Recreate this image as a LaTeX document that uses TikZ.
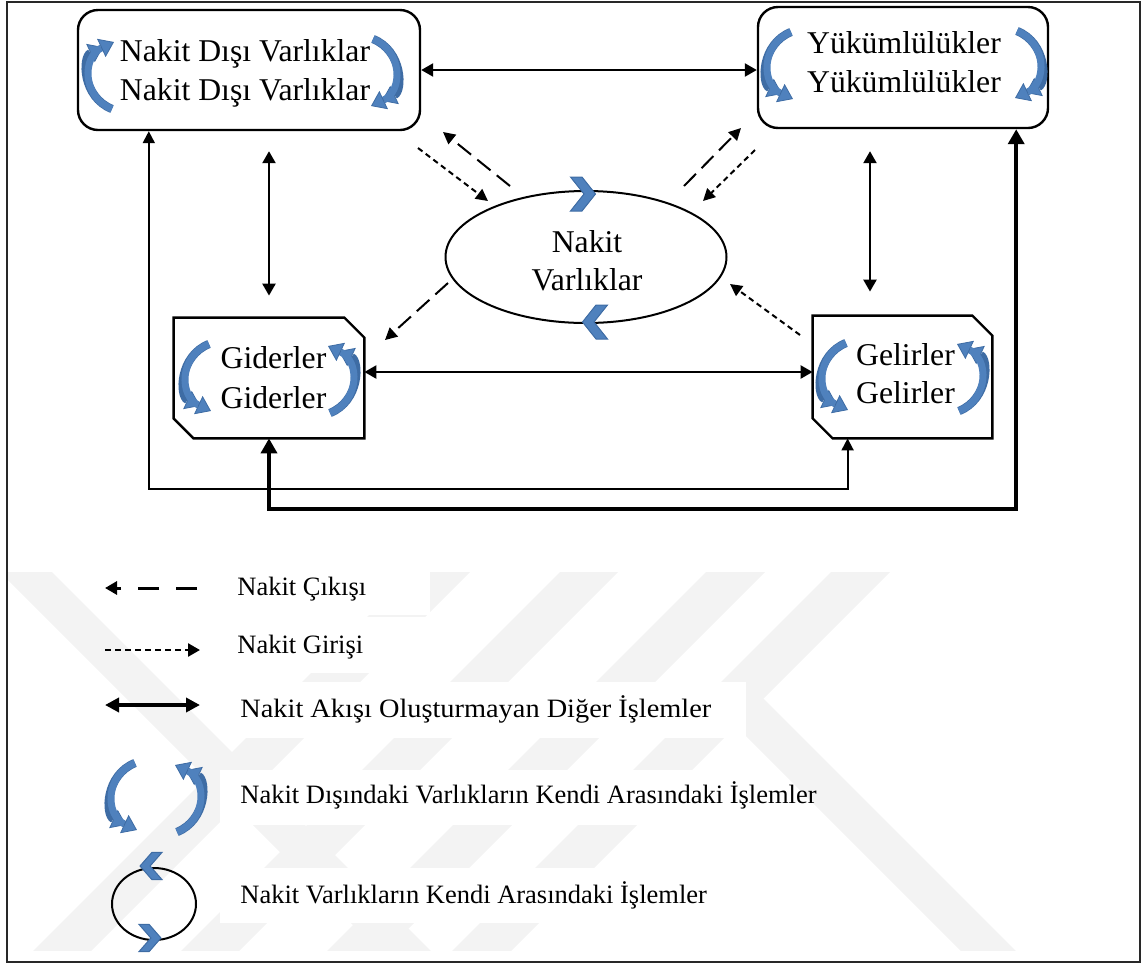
\documentclass[tikz,border=0pt]{standalone}
\usepackage{fontspec}
\setmainfont{Liberation Serif}
\usetikzlibrary{arrows.meta,shapes.geometric,calc}
\definecolor{arrblue}{RGB}{79,129,189}
\definecolor{arrdark}{RGB}{62,108,164}
\definecolor{wmgray}{RGB}{243,243,243}
\definecolor{framegray}{RGB}{40,40,40}

\begin{document}
\begin{tikzpicture}[x=0.5pt,y=-0.5pt,
  boxfont/.style={font=\fontsize{15.85pt}{19pt}\selectfont},
  legfont/.style={font=\fontsize{13.25pt}{15pt}\selectfont},
  roundbox/.style={draw, line width=1.2pt, rounded corners=10pt, inner sep=0pt},
  anchorbox/.style={rectangle, inner sep=0pt},
  chamline/.style={line width=1.2pt, line join=miter},
  cashshape/.style={draw, line width=1pt, ellipse, inner sep=0pt},
  label/.style={boxfont, inner sep=0pt, anchor=base},
  legtext/.style={legfont, inner sep=0pt, anchor=base west},
  link/.style={line width=1.2pt,
    {Triangle[length=6pt,width=6.5pt]}-{Triangle[length=6pt,width=6.5pt]}},
  thinlink/.style={line width=1pt,
    {Triangle[length=6pt,width=6pt]}-{Triangle[length=6pt,width=6pt]}},
  thicklink/.style={line width=2pt,
    {Triangle[length=7.5pt,width=8pt]}-{Triangle[length=7.5pt,width=8pt]}},
  outflow/.style={line width=1pt, dash pattern=on 8.5pt off 4pt,
    -{Triangle[length=6pt,width=6pt]}},
  inflow/.style={line width=1pt, dash pattern=on 2.8pt off 2pt,
    -{Triangle[length=6pt,width=6pt]}},
  chevstyle/.style={fill=arrblue, draw=arrdark, line width=0.5pt},
  bendstyle/.style={draw=arrblue, line width=3.5pt,
    -{Triangle[length=7pt,width=10pt,line width=0.4pt,color=arrdark,fill=arrblue]},
    preaction={draw=arrdark, line width=4.2pt, shorten >=6pt}},
  chevron/.pic={\filldraw[chevstyle] (-12.5,-17) -- (-1,-17) -- (12.5,0)
    -- (-1,17) -- (-12.5,17) -- (1,0) -- cycle;},
  bendarrow/.pic={\draw[bendstyle] (10,-34) .. controls (-20,-22) and (-20,18) .. (12,33);}
]
\useasboundingbox (0,0) rectangle (1147,965);

% faint background stripes in the lower half
\begin{scope}
  \clip (8,572) rectangle (1138,950);
  \fill[wmgray] (0,572) -- (52,572) -- (432,952) -- (380,952) -- cycle;
  \fill[wmgray] (412,572) -- (470,572) -- (90,952) -- (32,952) -- cycle;
  \fill[wmgray] (560,572) -- (618,572) -- (238,952) -- (180,952) -- cycle;
  \fill[wmgray] (706,572) -- (765,572) -- (385,952) -- (326,952) -- cycle;
  \fill[wmgray] (831,572) -- (890,572) -- (510,952) -- (451,952) -- cycle;
  \fill[wmgray] (700,690) -- (755,690) -- (1017,952) -- (962,952) -- cycle;
\end{scope}

% white panels behind the legend texts
\fill[white] (216,572) rectangle (430,615);
\fill[white] (216,617) rectangle (430,673);
\fill[white] (220,682) rectangle (746,738);
\fill[white] (220,770) rectangle (780,825);
\fill[white] (220,868) rectangle (853,923);

% outer frame
\draw[framegray, line width=1pt] (7,2) rectangle (1140,962);

% account boxes
\node[roundbox, minimum width=171pt, minimum height=60pt] (ndv) at (249,70) {};
\node[roundbox, minimum width=145pt, minimum height=60.5pt] (yuk) at (903,67.5) {};
\node[anchorbox, minimum width=95pt, minimum height=60pt] (gid) at (269,378) {};
\node[anchorbox, minimum width=89.5pt, minimum height=61pt] (gel) at (902.5,377) {};
\node[cashshape, minimum width=140.5pt, minimum height=66pt] (cash) at (586,257) {};
\foreach \b in {gid,gel}{
  \draw[chamline] (\b.north west) -- ($(\b.north east)+(-20,0)$)
    -- ($(\b.north east)+(0,20)$) -- (\b.south east)
    -- ($(\b.south west)+(20,0)$) -- ($(\b.south west)+(0,-20)$) -- cycle;
}

% box labels
\node[label] (ndvA) at (245,61) {Nakit Dışı Varlıklar};
\node[label] (ndvB) at (245,100) {Nakit Dışı Varlıklar};
\node[label] (yukA) at (904,53) {Yükümlülükler};
\node[label] (yukB) at (904,92) {Yükümlülükler};
\node[label] (gidA) at (273.5,368) {Giderler};
\node[label] (gidB) at (273.5,408) {Giderler};
\node[label] (gelA) at (905.5,365) {Gelirler};
\node[label] (gelB) at (905.5,403) {Gelirler};
\node[label] (cashA) at (587,252) {Nakit};
\node[label] (cashB) at (587,290) {Varlıklar};

% transactions that do not involve cash
\draw[link] (ndv.east) -- (ndv.east -| yuk.west);
\draw[link, shorten <=10pt, shorten >=11pt] (gid.north |- ndv.south) -- (gid.north);
\draw[link, shorten <=11pt, shorten >=12pt] ($(yuk.south)+(-33,0)$) -- ($(gel.north)+(-32.5,0)$);
\draw[link] ($(gid.east)+(0,-6)$) -- ($(gel.west)+(0,-5)$);
\draw[thinlink] ($(ndv.south west)+(72,0)$) -- ++(0,358) -| ($(gel.south west)+(35,0)$);
\draw[thicklink] (gid.south) -- ++(0,71) -| ($(yuk.south east)+(-33,0)$);

% cash flows
\coordinate (o1a) at (510,186); \coordinate (o1b) at (443,132);
\coordinate (i1a) at (418,148); \coordinate (i1b) at (488,201);
\coordinate (o2a) at (684,186); \coordinate (o2b) at (741,128);
\coordinate (i2a) at (755,150); \coordinate (i2b) at (703,201);
\coordinate (o3a) at (448,283); \coordinate (o3b) at (385,340);
\coordinate (i3a) at (800,335); \coordinate (i3b) at (730,284);
\draw[outflow] (o1a) -- (o1b);
\draw[inflow] (i1a) -- (i1b);
\draw[outflow] (o2a) -- (o2b);
\draw[inflow] (i2a) -- (i2b);
\draw[outflow] (o3a) -- (o3b);
\draw[inflow] (i3a) -- (i3b);

% circulation marks
\pic[yscale=-1] at (102,75) {bendarrow};
\pic[xscale=-1] at (383,73) {bendarrow};
\pic at (781,66) {bendarrow};
\pic[xscale=-1] at (1027,65) {bendarrow};
\pic at (199,378) {bendarrow};
\pic[xscale=-1,yscale=-1] at (340,379) {bendarrow};
\pic at (836,377) {bendarrow};
\pic[xscale=-1,yscale=-1] at (969,377) {bendarrow};
\pic at (583,194) {chevron};
\pic[xscale=-1] at (595,322) {chevron};

% legend
\coordinate (k1a) at (197,588); \coordinate (k1b) at (105,588);
\coordinate (k2a) at (105,650); \coordinate (k2b) at (200,650);
\coordinate (k3a) at (105,705); \coordinate (k3b) at (200,705);
\draw[line width=1.5pt, dash pattern=on 10.5pt off 8.5pt,
  -{Triangle[length=6pt,width=6.5pt]}] (k1a) -- (k1b);
\draw[line width=1.3pt, dash pattern=on 3pt off 2pt,
  -{Triangle[length=6pt,width=6.5pt]}] (k2a) -- (k2b);
\draw[line width=1.75pt,
  {Triangle[length=7pt,width=7pt]}-{Triangle[length=7pt,width=7pt]}] (k3a) -- (k3b);
\pic at (125,797) {bendarrow};
\pic[xscale=-1,yscale=-1] at (187,798) {bendarrow};
\node[draw, line width=1pt, ellipse, minimum width=42pt, minimum height=36pt,
  inner sep=0pt] (kcash) at (154,904) {};
\pic[xscale=-0.88,yscale=0.8] at (151,866) {chevron};
\pic[xscale=0.88,yscale=0.8] at (150,938) {chevron};

\node[legtext] (t1) at (237,595) {Nakit Çıkışı};
\node[legtext] (t2) at (237,653) {Nakit Girişi};
\node[legtext] (t3) at (240,717) {\scalebox{1.07}[1]{Nakit Akışı Oluşturmayan Diğer İşlemler}};
\node[legtext] (t4) at (240,803) {Nakit Dışındaki Varlıkların Kendi Arasındaki İşlemler};
\node[legtext] (t5) at (240,903) {Nakit Varlıkların Kendi Arasındaki İşlemler};
\end{tikzpicture}
\end{document}
